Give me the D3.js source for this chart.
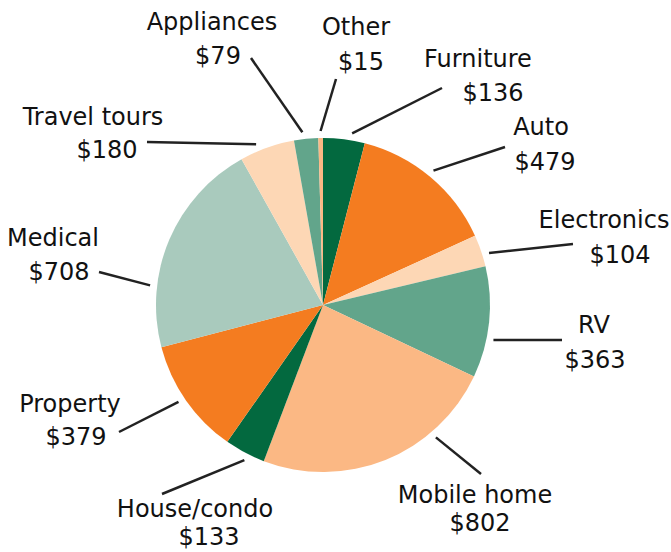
<!DOCTYPE html>
<html>
<head>
<meta charset="utf-8">
<script src="https://cdn.jsdelivr.net/npm/d3@7"></script>
<style>
  body { margin: 0; background: #fff; }
  text { font-family: "DejaVu Sans", sans-serif; font-size: 24px; fill: #111; }
</style>
</head>
<body>
<script>
// Data, clockwise from 12 o'clock
const categories = ["Furniture", "Auto", "Electronics", "RV", "Mobile home", "House/condo",
                    "Property", "Medical", "Travel tours", "Appliances", "Other"];
const values = [136, 479, 104, 363, 802, 133, 379, 708, 180, 79, 15];
const colors = ["#03693f", "#f47c20", "#fdd7b5", "#62a58b", "#fbb884", "#03693f",
                "#f47c20", "#a9cabd", "#fdd7b5", "#62a58b", "#fbb884"];

// Label placement (name centre/baseline, value-line offset, leader end, leader angle nudge)
const labelLayout = {
  "Furniture":    { tx: 478, ty: 67,  vdx: 15, vdy: 34, lx: 442, ly: 88,  nudge: 2.4 },
  "Auto":         { tx: 541, ty: 135, vdx: 4,  vdy: 35, lx: 505, ly: 147, nudge: -0.6 },
  "Electronics":  { tx: 604, ty: 228, vdx: 16, vdy: 35, lx: 573, ly: 244, nudge: 1.5 },
  "RV":           { tx: 594, ty: 333, vdx: 1,  vdy: 35, lx: 562, ly: 340, nudge: 5.6 },
  "Mobile home":  { tx: 475, ty: 503, vdx: 5,  vdy: 28, lx: 481, ly: 474, nudge: -18.5 },
  "House/condo":  { tx: 195, ty: 517, vdx: 14, vdy: 28, lx: 162, ly: 494, nudge: -1 },
  "Property":     { tx: 70,  ty: 412, vdx: 6,  vdy: 33, lx: 119, ly: 432, nudge: 1 },
  "Medical":      { tx: 53,  ty: 246, vdx: 6,  vdy: 34, lx: 99,  ly: 272, nudge: -16.6 },
  "Travel tours": { tx: 93,  ty: 125, vdx: 14, vdy: 33, lx: 147, ly: 142, nudge: -3 },
  "Appliances":   { tx: 212, ty: 30,  vdx: 6,  vdy: 34, lx: 251, ly: 58,  nudge: -1 },
  "Other":        { tx: 356, ty: 35,  vdx: 5,  vdy: 35, lx: 336, ly: 79,  nudge: 0 }
};

const width = 671, height = 552;
const cx = 323, cy = 305, radius = 167;

const svg = d3.select("body").append("svg")
  .attr("width", width)
  .attr("height", height);

const pie = d3.pie().sort(null).value(d => d.value);
const arc = d3.arc().innerRadius(0).outerRadius(radius);

const data = categories.map((c, i) => ({ name: c, value: values[i], color: colors[i] }));
const arcs = pie(data);

const g = svg.append("g").attr("transform", `translate(${cx},${cy})`);

g.selectAll("path")
  .data(arcs)
  .join("path")
  .attr("d", arc)
  .attr("fill", d => d.data.color);

// leader lines start just outside the slice, at its mid angle (nudged)
const leaderR = radius + 7;
function leaderAngle(d) {
  return (d.startAngle + d.endAngle) / 2 + labelLayout[d.data.name].nudge * Math.PI / 180;
}

svg.append("g")
  .attr("stroke", "#222")
  .attr("stroke-width", 2.5)
  .selectAll("line")
  .data(arcs)
  .join("line")
  .attr("x1", d => cx + leaderR * Math.sin(leaderAngle(d)))
  .attr("y1", d => cy - leaderR * Math.cos(leaderAngle(d)))
  .attr("x2", d => labelLayout[d.data.name].lx)
  .attr("y2", d => labelLayout[d.data.name].ly);

// labels
const lab = svg.append("g")
  .selectAll("g")
  .data(arcs)
  .join("g");

lab.append("text")
  .attr("text-anchor", "middle")
  .attr("x", d => labelLayout[d.data.name].tx)
  .attr("y", d => labelLayout[d.data.name].ty)
  .text(d => d.data.name);

lab.append("text")
  .attr("text-anchor", "middle")
  .attr("x", d => labelLayout[d.data.name].tx + labelLayout[d.data.name].vdx)
  .attr("y", d => labelLayout[d.data.name].ty + labelLayout[d.data.name].vdy)
  .text(d => "$" + d.data.value);
</script>
</body>
</html>
